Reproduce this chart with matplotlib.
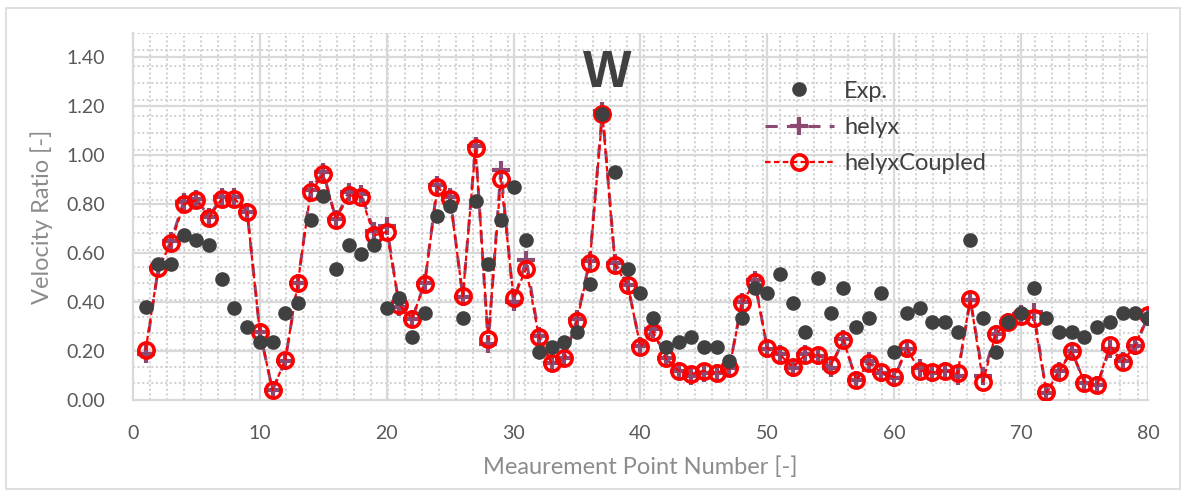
import numpy as np
import matplotlib
matplotlib.use("Agg")
import matplotlib.pyplot as plt
from matplotlib.patches import Rectangle

plt.rcParams['font.family'] = ['Lato', 'DejaVu Sans']

# measurement point numbers
points = list(range(1, 81))

exp_vals = [0.38, 0.555, 0.555, 0.673, 0.656, 0.635, 0.495, 0.375, 0.297, 0.238,
            0.238, 0.356, 0.395, 0.735, 0.833, 0.537, 0.635, 0.596, 0.635, 0.377,
            0.418, 0.256, 0.356, 0.752, 0.792, 0.337, 0.814, 0.555, 0.735, 0.871,
            0.653, 0.197, 0.218, 0.238, 0.279, 0.476, 1.17, 0.93, 0.537, 0.438,
            0.337, 0.218, 0.238, 0.259, 0.218, 0.218, 0.159, 0.337, 0.456, 0.438,
            0.517, 0.397, 0.276, 0.497, 0.356, 0.456, 0.297, 0.337, 0.438, 0.197,
            0.356, 0.377, 0.317, 0.317, 0.276, 0.653, 0.337, 0.197, 0.317, 0.356,
            0.456, 0.337, 0.276, 0.276, 0.256, 0.297, 0.317, 0.356, 0.356, 0.337]

coupled_vals = [0.204, 0.54, 0.64, 0.80, 0.816, 0.744, 0.823, 0.823, 0.769, 0.279,
                0.041, 0.163, 0.48, 0.85, 0.922, 0.737, 0.837, 0.83, 0.673, 0.687,
                0.388, 0.333, 0.476, 0.871, 0.82, 0.424, 1.03, 0.249, 0.905, 0.418,
                0.537, 0.258, 0.15, 0.17, 0.324, 0.56, 1.17, 0.551, 0.469, 0.218,
                0.279, 0.17, 0.12, 0.106, 0.12, 0.111, 0.129, 0.395, 0.483, 0.211,
                0.184, 0.136, 0.184, 0.184, 0.143, 0.245, 0.082, 0.15, 0.113, 0.093,
                0.211, 0.12, 0.113, 0.12, 0.109, 0.413, 0.075, 0.269, 0.32, 0.343,
                0.337, 0.031, 0.116, 0.201, 0.071, 0.061, 0.224, 0.156, 0.224, 0.347]

helyx_vals = [0.19, 0.54, 0.65, 0.81, 0.82, 0.75, 0.83, 0.83, 0.77, 0.28,
              0.04, 0.16, 0.48, 0.86, 0.93, 0.74, 0.85, 0.84, 0.69, 0.71,
              0.38, 0.33, 0.48, 0.88, 0.83, 0.42, 1.04, 0.23, 0.94, 0.40,
              0.574, 0.26, 0.15, 0.17, 0.33, 0.57, 1.18, 0.56, 0.47, 0.22,
              0.29, 0.17, 0.12, 0.10, 0.11, 0.11, 0.13, 0.40, 0.49, 0.21,
              0.19, 0.13, 0.19, 0.18, 0.13, 0.25, 0.08, 0.16, 0.11, 0.09,
              0.21, 0.13, 0.11, 0.12, 0.10, 0.41, 0.10, 0.27, 0.32, 0.35,
              0.36, 0.03, 0.12, 0.20, 0.07, 0.06, 0.21, 0.16, 0.22, 0.34]

fig = plt.figure(figsize=(11.86, 4.95), dpi=100)
ax = fig.add_axes([0.1121, 0.1919, 0.8558, 0.7414])

# outer chart border
fig.patches.append(Rectangle((0.005, 0.012), 0.99, 0.972, transform=fig.transFigure,
                             fill=False, edgecolor='#d9d9d9', lw=1.2))

ax.set_xlim(0, 80)
ax.set_ylim(0, 1.5)

# dotted fine grid
for yv in np.arange(1, 22) * 1.5 / 22:
    ax.axhline(yv, color='#d3d3d3', lw=1.5, ls=(0, (1, 1.2)), zorder=0)
for xv in np.arange(1, 60) * 1.342:
    ax.axvline(xv, color='#d3d3d3', lw=1.5, ls=(0, (1, 1.2)), zorder=0)
ax.axhline(1.5, color='#d3d3d3', lw=1.5, ls=(0, (1, 1.2)), zorder=0)
# major grid
for yv in np.arange(0.2, 1.41, 0.2):
    ax.axhline(yv, color='#d9d9d9', lw=1.6, zorder=0.5)
for xv in range(10, 81, 10):
    ax.axvline(xv, color='#d9d9d9', lw=1.6, zorder=0.5)

ax.plot(points, helyx_vals, color='#8c4a73', lw=2.2, ls=(0, (4, 3)),
        marker='+', ms=13, mew=3, label='helyx', zorder=2)
ax.plot(points, coupled_vals, color='#ff0000', lw=1.6, ls=(0, (2.5, 1.5)),
        marker='o', ms=11, mew=2.6, mfc='none', mec='#ff0000',
        label='helyxCoupled', zorder=3)
ax.plot(points, exp_vals, ls='none', marker='o', ms=9.5, color='#404040',
        label='Exp.', zorder=4)

ax.text(37.4, 1.335, 'W', fontsize=37, fontweight='bold', color='#404040',
        ha='center', va='center', family=['Liberation Sans', 'DejaVu Sans'])

ax.set_xticks(range(0, 81, 10))
ax.set_yticks(np.arange(0, 1.41, 0.2))
ax.set_yticklabels(['%.2f' % v for v in np.arange(0, 1.41, 0.2)])
ax.tick_params(length=0, labelsize=14, colors='#595959')
ax.tick_params(axis='x', pad=18)
ax.tick_params(axis='y', pad=20)

for s in ['top', 'right']:
    ax.spines[s].set_visible(False)
for s in ['left', 'bottom']:
    ax.spines[s].set_color('#d9d9d9')
    ax.spines[s].set_linewidth(1.6)

ax.set_xlabel('Meaurement Point Number [-]', fontsize=17, color='#8c8c8c', labelpad=10)
ax.set_ylabel('Velocity Ratio [-]', fontsize=17, color='#8c8c8c', labelpad=10)

h, l = ax.get_legend_handles_labels()
order = [2, 0, 1]
leg = ax.legend([h[i] for i in order], [l[i] for i in order],
                loc='upper left', bbox_to_anchor=(0.602, 0.928), frameon=False,
                fontsize=17, labelspacing=0.65, handlelength=2.9, handletextpad=0.45)
for t in leg.get_texts():
    t.set_color('#404040')

fig.savefig('out.png', dpi=100)
